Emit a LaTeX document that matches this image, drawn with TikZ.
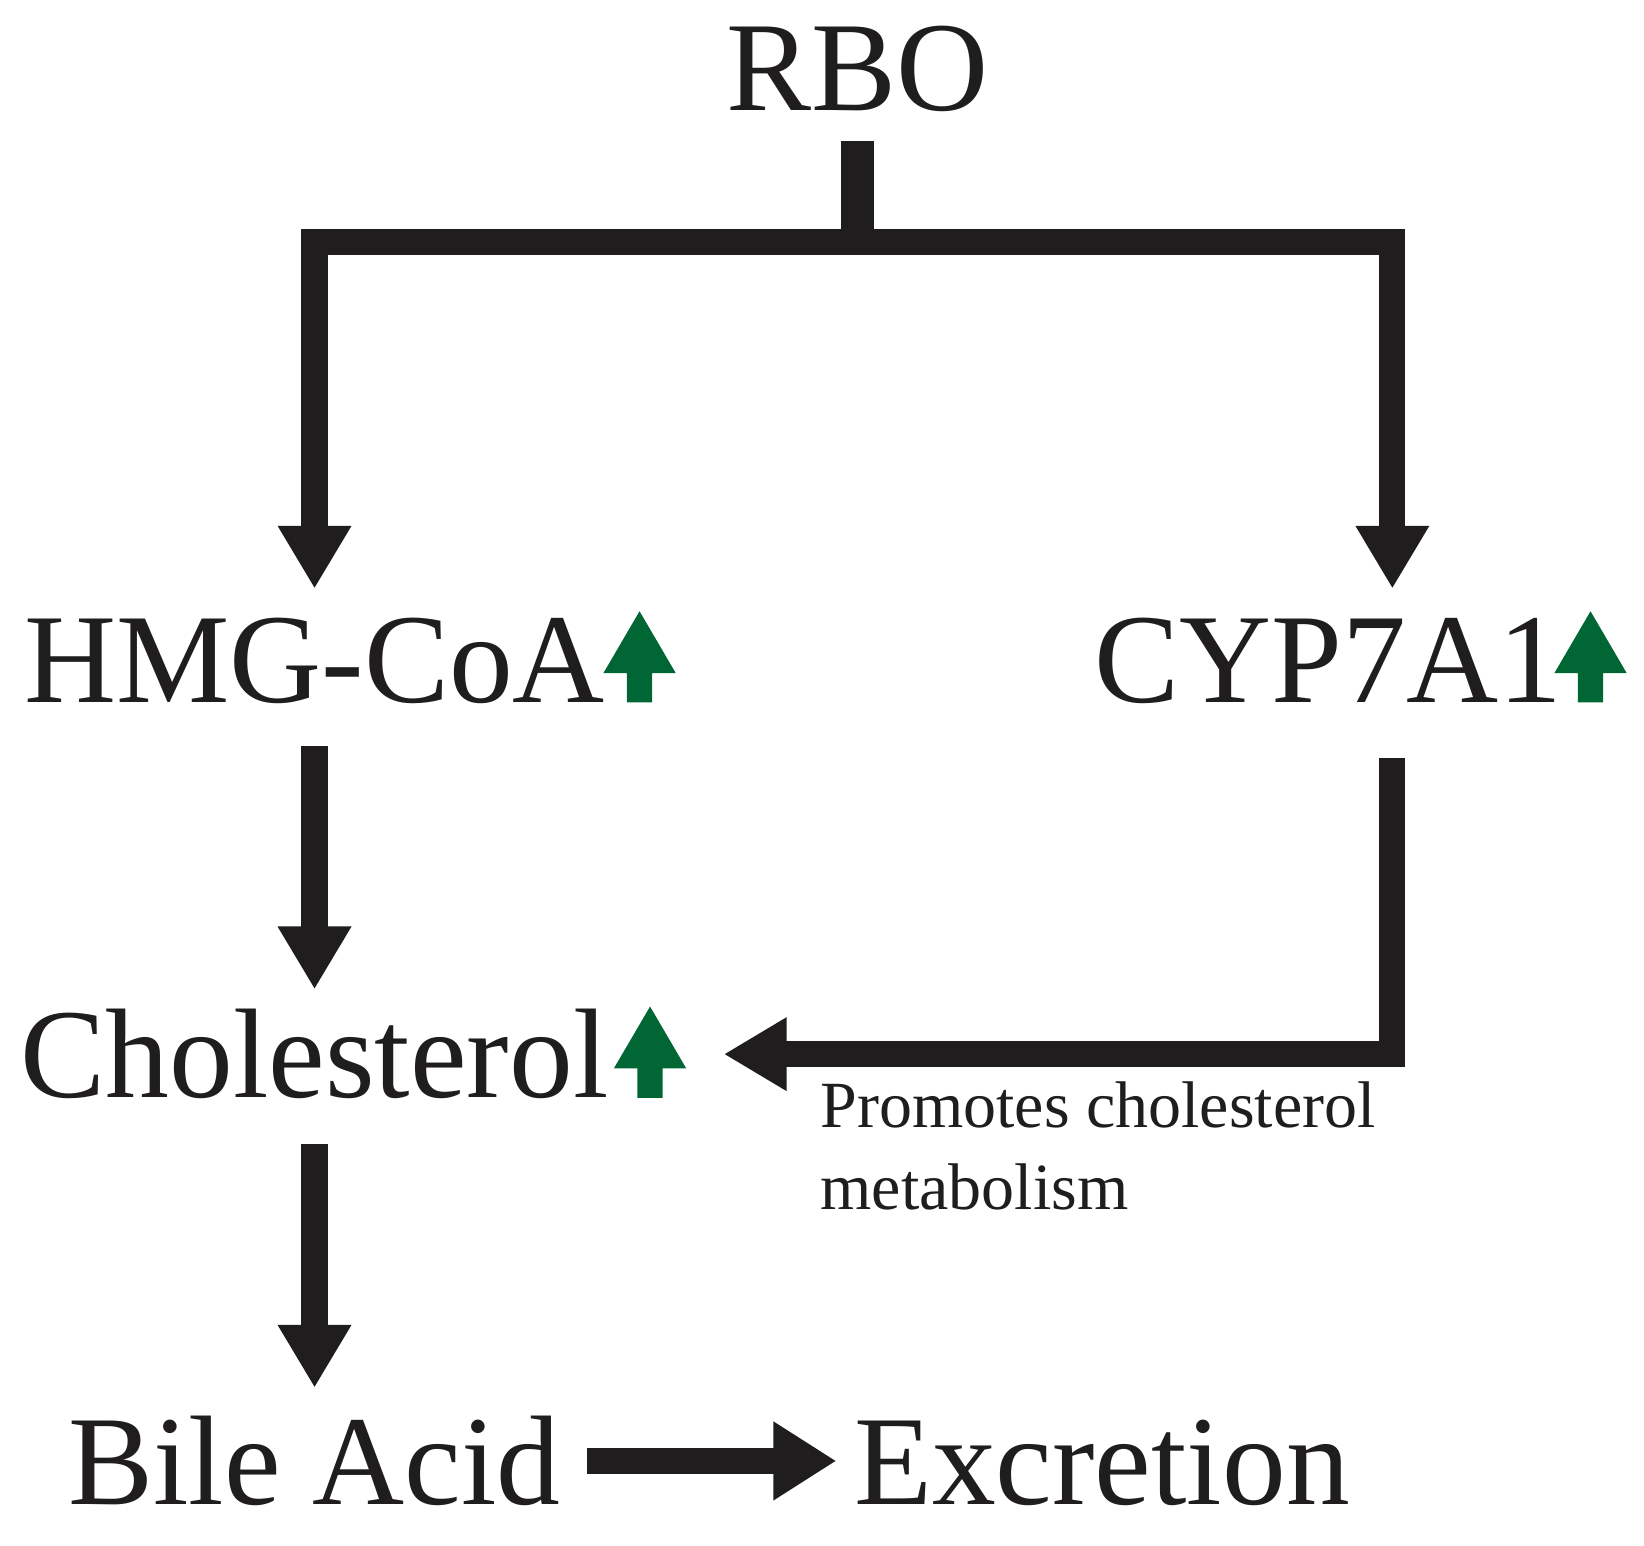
\documentclass[tikz,border=0pt]{standalone}
\usepackage{fontspec}
\setmainfont{Liberation Serif}
\usepackage{tikz}
\usetikzlibrary{
  arrows.meta,
  calc
}
\usepackage{xcolor}
\definecolor{inkblack}{RGB}{31, 29, 30}
\definecolor{upgreen}{RGB}{0, 102, 51}
\tikzset{
  % Asosiy matnlar
  bigtext/.style  = {font=\fontsize{34.6}{40}\selectfont, text=inkblack,
                     inner sep=0pt, outer sep=0pt, anchor=base},
  notetext/.style = {font=\fontsize{17.9}{22.2}\selectfont, text=inkblack,
                     inner sep=0pt, align=left, anchor=north west},
  % O'q chiziqlari
  flowline/.style = {draw=inkblack, line width=2.5mm},
  stemline/.style = {draw=inkblack, line width=3.2mm},
  >={Triangle[width=6.6mm,length=6mm]},
  % Yashil strelka
  upmark/.pic = {
    \fill[upgreen] (-12,0) -- (-12,-28) -- (-34.5,-28) -- (0,-87)
      -- (34.5,-28) -- (12,-28) -- (12,0) -- cycle;
  },
}
\begin{document}
\begin{tikzpicture}[x=0.1mm, y=-0.1mm]
  \useasboundingbox (0,0) rectangle (1568,1474);
  \node[bigtext] (rbo)  at (818,105)  {RBO};
  \node[bigtext] (hmg)  at (300,670)  {HMG-CoA};
  \node[bigtext] (cyp)  at (1267,670) {CYP7A1};
  \node[bigtext] (chol) at (300,1047) {Cholesterol};
  \node[bigtext] (bile) at (300,1435) {Bile Acid};
  \node[bigtext] (excr) at (1051,1435) {Excretion};
  \node[notetext] (note) at (782,1031) {Promotes cholesterol\\metabolism};
  \pic at (610,670)  {upmark};
  \pic at (1517,670) {upmark};
  \pic at (620,1047) {upmark};
  \coordinate (split) at (815,230.5);
  \draw[stemline, shorten <=2.8mm] (rbo.south) -- (rbo.south |- split);
  \draw[flowline, <->, shorten <=2.8mm, shorten >=2.8mm]
    (hmg.north) |- (split) -| ([xshift=6.1mm]cyp.north);
  \draw[flowline, ->, shorten <=4mm, shorten >=1.9mm] (hmg.south) -- (chol.north);
  \draw[flowline, ->, shorten <=4.3mm, shorten >=2.7mm] (chol.south) -- (bile.north);
  \draw[flowline, ->, shorten <=5.2mm, shorten >=11mm]
    ([xshift=6.1mm]cyp.south) |- (chol.east);
  \draw[flowline, -{Triangle[width=7.1mm,length=6mm]}, shorten <=2.5mm, shorten >=1.7mm]
    (bile.east) -- (bile.east -| excr.west);
\end{tikzpicture}
\end{document}
